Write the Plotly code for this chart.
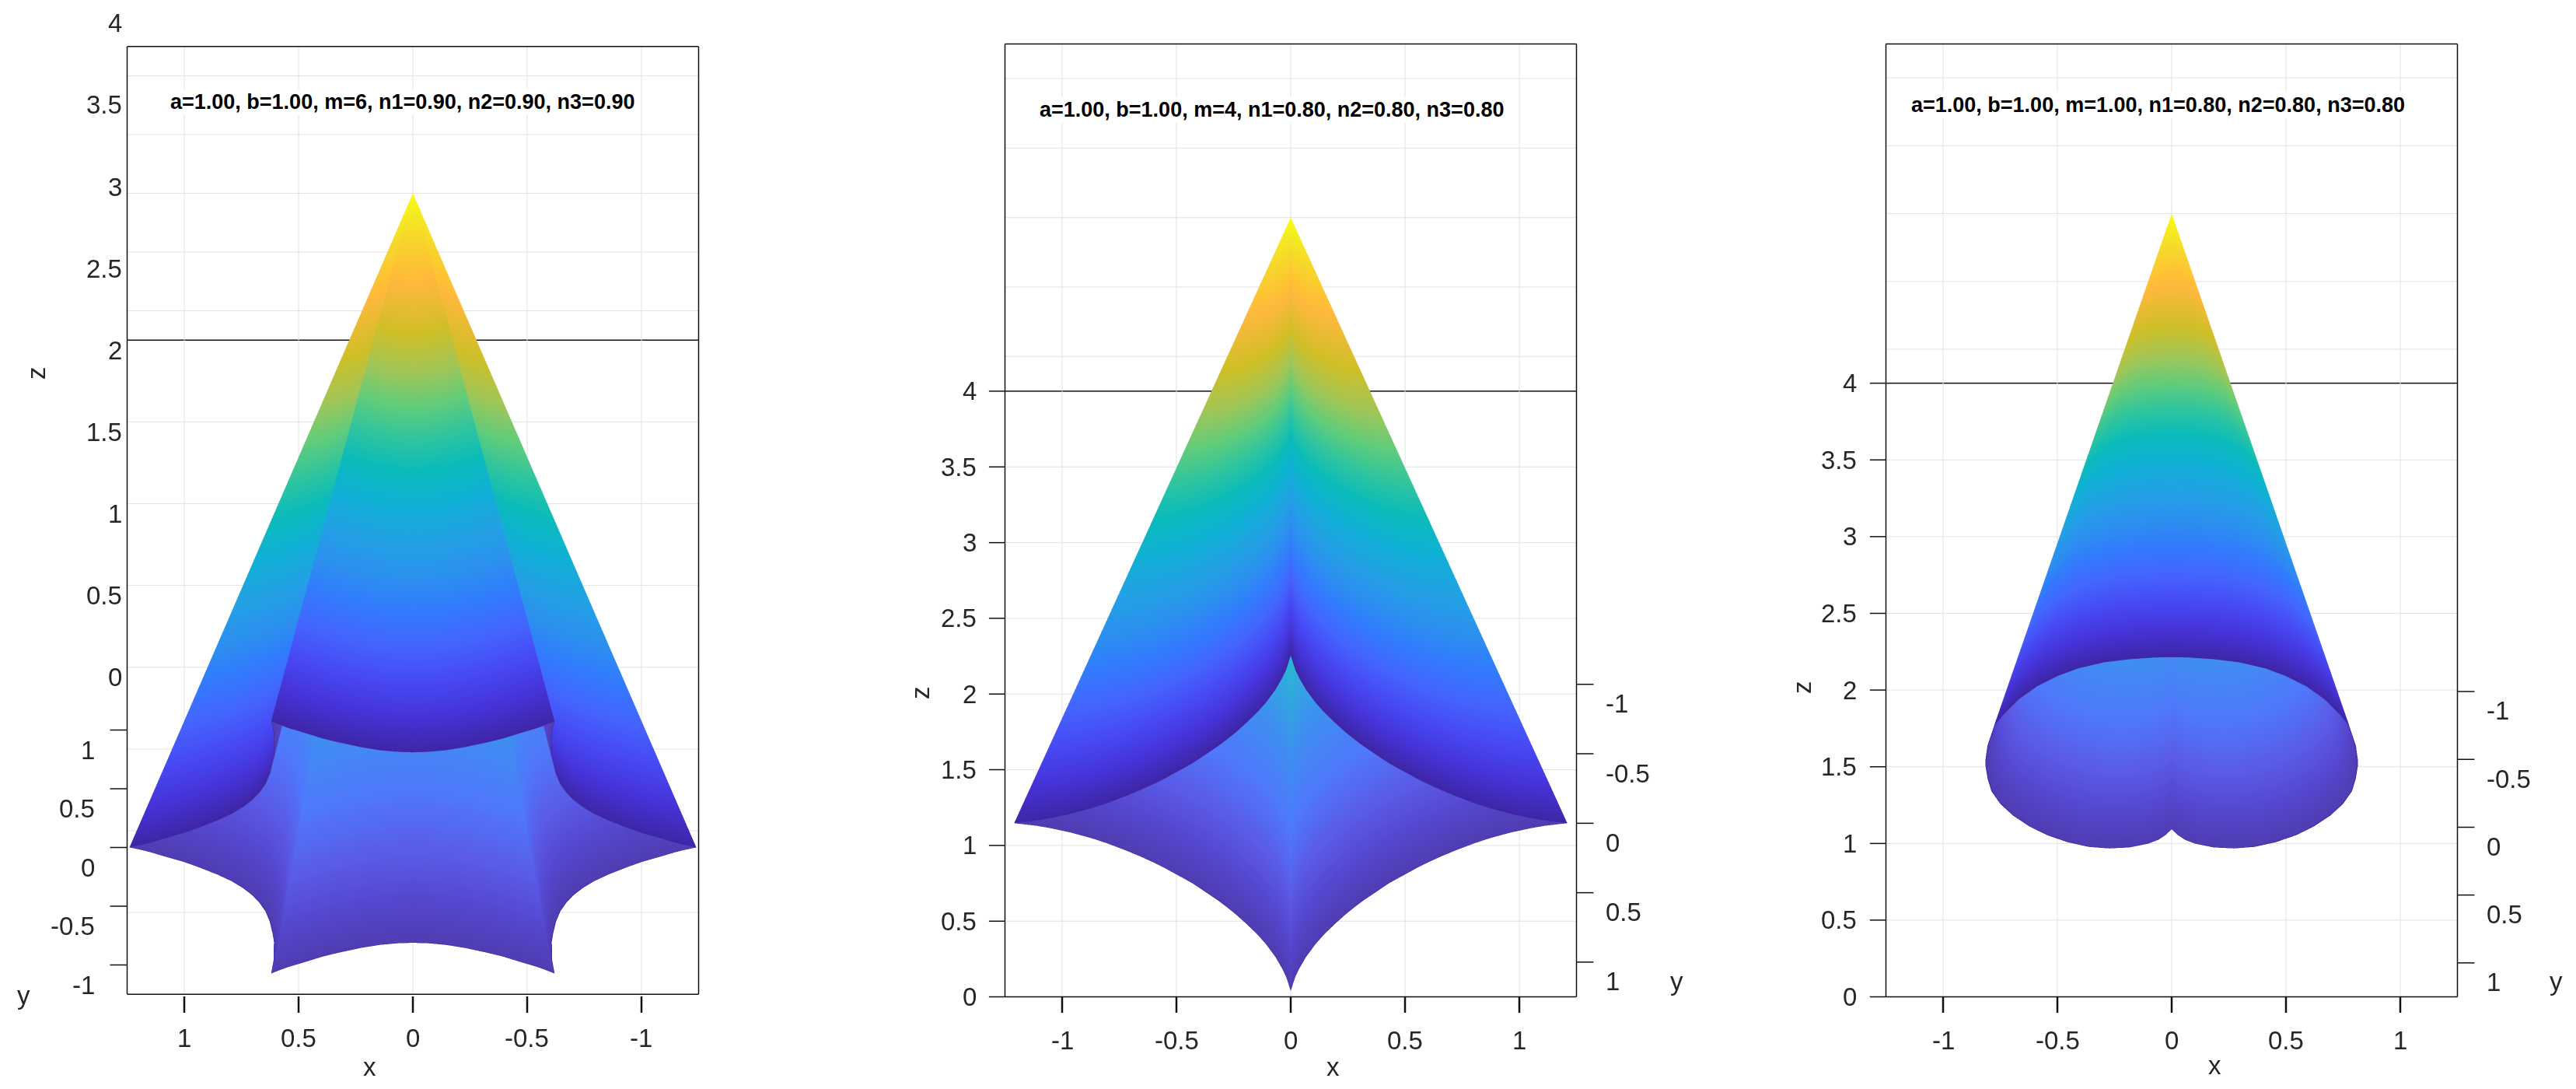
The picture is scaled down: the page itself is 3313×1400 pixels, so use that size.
import math
import plotly.graph_objects as go

W = 3313
H = 1400

# parula, sampled
parula = [
    [0.00, "#3e26a8"], [0.06, "#4533d6"], [0.12, "#4748f4"], [0.19, "#4465fd"],
    [0.25, "#327bfd"], [0.31, "#2c90ef"], [0.37, "#23a0e5"], [0.44, "#10b0d5"],
    [0.50, "#0abbbb"], [0.56, "#30c59e"], [0.62, "#63cc7a"], [0.68, "#a0c658"],
    [0.75, "#d0bf27"], [0.81, "#f0ba36"], [0.84, "#feb93c"], [0.87, "#fec334"],
    [0.92, "#f6d82b"], [0.96, "#f5e922"], [1.00, "#f9fb15"],
]
# the inside of the cone reads paler in the picture
parula_inside = [
    [0.00, "#4f3db2"], [0.06, "#5548d0"], [0.12, "#5a5ce8"], [0.20, "#4f78fc"],
    [0.30, "#3d90f0"], [0.40, "#2cb2d8"], [0.50, "#20c0c0"], [1.00, "#f9fb15"],
]

apex_z = 4
x_ticks = [-1, -0.5, 0, 0.5, 1]
y_ticks = [-1, -0.5, 0, 0.5, 1]
z_ticks = [0, 0.5, 1, 1.5, 2, 2.5, 3, 3.5, 4]
tick_text = {-1: "-1", -0.5: "-0.5", 0: "0", 0.5: "0.5", 1: "1", 1.5: "1.5", 2: "2", 2.5: "2.5", 3: "3", 3.5: "3.5", 4: "4"}

# rim of the m=6 shape, one 60 degree sector
m6_angle = [0, 1, 2, 4, 7, 10, 15, 20, 25, 30, 35, 40, 45, 50, 53, 56, 58, 59]
m6_radius = [1.24, 1.19, 1.15, 1.09, 1.01, 0.955, 0.887, 0.843, 0.82, 0.812, 0.82, 0.843, 0.887, 0.955, 1.01, 1.09, 1.15, 1.19]

# rim of the m=4 shape, one 90 degree sector
m4_angle = [0, 1, 2, 4, 7, 10, 15, 20, 25, 30, 35, 40, 45, 50, 55, 60, 65, 70, 75, 80, 83, 86, 88, 89]
m4_radius = [1.21, 1.11, 1.05, 0.965, 0.88, 0.82, 0.75, 0.70, 0.665, 0.64, 0.625, 0.615, 0.61, 0.615, 0.625, 0.64, 0.665, 0.70, 0.75, 0.82, 0.88, 0.965, 1.05, 1.11]

# rim of the m=1 shape, right half from the dimple round to the near side
m1_x = [0, 0.024, 0.058, 0.103, 0.183, 0.273, 0.364, 0.455, 0.545, 0.625, 0.693, 0.749, 0.789, 0.806, 0.815, 0.815, 0.806, 0.778, 0.738, 0.670, 0.591, 0.50, 0.409, 0.296, 0.183, 0.069, 0]
m1_y = [0.015, 0.055, 0.093, 0.122, 0.149, 0.157, 0.145, 0.111, 0.059, -0.008, -0.084, -0.17, -0.265, -0.361, -0.456, -0.494, -0.60, -0.743, -0.829, -0.943, -1.038, -1.115, -1.172, -1.216, -1.239, -1.252, -1.254]


def polar_rim(angle, radius, sectors, step):
    xs = []
    ys = []
    for s in range(sectors):
        for a, r in zip(angle, radius):
            t = math.radians(a + s * step)
            xs.append(r * math.cos(t))
            ys.append(r * math.sin(t))
    xs.append(xs[0])
    ys.append(ys[0])
    return xs, ys


rim6 = polar_rim(m6_angle, m6_radius, 6, 60)
rim4 = polar_rim(m4_angle, m4_radius, 4, 90)
rim1 = (m1_x + [-v for v in m1_x[-2::-1]], m1_y + m1_y[-2::-1])

fig = go.Figure()

dark = "#262626"
edge = "#101010"
grid = "#e2e2e2"
lim = 1.25


def eye_dir(elevation, side):
    t = math.radians(elevation)
    return 0, side * math.cos(t), -math.sin(t)


def cone(rim, scene, inner_shift=0):
    n = len(rim[0])
    flat = dict(ambient=1, diffuse=0, specular=0, fresnel=0, roughness=1)
    fig.add_trace(go.Surface(
        x=[rim[0], [0] * n], y=[rim[1], [0] * n], z=[[0] * n, [apex_z] * n],
        colorscale=parula, cmin=0, cmax=apex_z, showscale=False, hoverinfo="skip",
        lighting=flat, scene=scene))
    # a skin just inside the first one, only seen through the open base
    fig.add_trace(go.Surface(
        x=[[v * 0.996 for v in rim[0]], [0] * n],
        y=[[v * 0.996 + inner_shift for v in rim[1]], [inner_shift] * n],
        z=[[0] * n, [apex_z - 0.06] * n],
        colorscale=parula_inside, cmin=0, cmax=apex_z, showscale=False, hoverinfo="skip",
        lighting=flat, scene=scene))


def lines(segments, scene, color, width):
    xs, ys, zs = [], [], []
    for a, b in segments:
        xs += [a[0], b[0], None]
        ys += [a[1], b[1], None]
        zs += [a[2], b[2], None]
    fig.add_trace(go.Scatter3d(x=xs, y=ys, z=zs, mode="lines", line=dict(color=color, width=width),
                               hoverinfo="skip", showlegend=False, scene=scene))


def frame(far_y, near_y, scene, y_tick_x, z_ticks_on):
    # grid on the back wall and on the ceiling, as MATLAB draws it from below
    g = []
    for v in x_ticks:
        g.append(((v, far_y, 0), (v, far_y, 4)))
        g.append(((v, far_y, 4), (v, near_y, 4)))
    for v in z_ticks:
        g.append(((-lim, far_y, v), (lim, far_y, v)))
    for v in y_ticks:
        g.append(((-lim, v, 4), (lim, v, 4)))
    lines(g, scene, grid, 2)

    # box silhouette, plus the seam between back wall and ceiling
    b = [((-lim, far_y, 0), (lim, far_y, 0)), ((lim, far_y, 0), (lim, near_y, 4)),
         ((lim, near_y, 4), (-lim, near_y, 4)), ((-lim, near_y, 4), (-lim, far_y, 0)),
         ((-lim, far_y, 4), (lim, far_y, 4))]
    lines(b, scene, edge, 3)

    t = []
    for v in y_ticks:
        t.append(((y_tick_x, v, 0), (y_tick_x + 0.075, v, 0)))
    if z_ticks_on:
        for v in z_ticks:
            t.append(((-lim, far_y, v), (-lim - 0.07, far_y, v)))
    lines(t, scene, edge, 3)


cone(rim6, "scene")
frame(-lim, lim, "scene", lim, False)
cone(rim4, "scene2")
frame(lim, -lim, "scene2", lim, True)
cone(rim1, "scene3", -0.003)
frame(lim, -lim, "scene3", lim, True)


def axis(lo, hi):
    return dict(range=[lo, hi], visible=False)


def label(v, x, y, z, xshift, yshift, xanchor):
    return dict(x=x, y=y, z=z, text=tick_text[v], showarrow=False, xanchor=xanchor, yanchor="middle",
                xshift=xshift, yshift=yshift, font=dict(family="Liberation Sans", size=33, color=dark))


def scene_layout(left, right, elevation, side, annos, dist=3):
    ex, ey, ez = eye_dir(elevation, side)
    return dict(
        domain=dict(x=[left / W, right / W], y=[1 - 1338 / H, 1]),
        xaxis=axis(-1.35, 1.35), yaxis=axis(-1.4, 1.4), zaxis=axis(0, 4),
        aspectmode="manual", aspectratio=dict(x=1.1865, y=1.2305, z=1.465),
        camera=dict(projection=dict(type="orthographic"), up=dict(x=0, y=0, z=1),
                    center=dict(x=0, y=0, z=0), eye=dict(x=ex * dist, y=ey * dist, z=ez * dist)),
        annotations=annos, bgcolor="white")


annos1 = [label(v, lim, lim, v, -5, 30, "right") for v in z_ticks]
annos1 += [label(v, lim, v, 0, -40, -26, "right") for v in y_ticks]
annos1 += [label(v, v, -lim, 0, 0, -56, "center") for v in x_ticks]

annos2 = [label(v, -lim, lim, v, -35, 0, "right") for v in z_ticks]
annos2 += [label(v, lim, v, 0, 36, -25, "left") for v in y_ticks]
annos2 += [label(v, v, lim, 0, 0, -56, "center") for v in x_ticks]

annos3 = [label(v, -lim, lim, v, -36, 0, "right") for v in z_ticks]
annos3 += [label(v, lim, v, 0, 36, -25, "left") for v in y_ticks]
annos3 += [label(v, v, lim, 0, 0, -56, "center") for v in x_ticks]


def paper_text(text, px, py, size=33, bold=False, angle=0, bg=None):
    return dict(xref="paper", yref="paper", x=px / W, y=1 - py / H, text=("<b>%s</b>" % text) if bold else text,
                showarrow=False, textangle=angle, xanchor="center", yanchor="middle", bgcolor=bg,
                font=dict(family="Liberation Sans", size=size, color="black" if bold else dark))


def x_tick_marks(center, direction):
    # scatter3d would not show these, so they are plain shapes under the box
    marks = []
    for v in x_ticks:
        px = (center + direction * v * 294) / W
        marks.append(dict(type="line", xref="paper", yref="paper", x0=px, x1=px, y0=1 - 1281 / H, y1=1 - 1302 / H,
                          line=dict(color=edge, width=2.5)))
    return marks


fig.update_layout(
    width=W, height=H, margin=dict(l=0, r=0, t=0, b=0), paper_bgcolor="white", showlegend=False,
    scene=scene_layout(0, 1062, 30.9, 1, annos1),
    scene2=scene_layout(1160, 2160, 37.4, -1, annos2),
    scene3=scene_layout(2293, 3293, 36.4, -1, annos3),
    shapes=x_tick_marks(531, -1) + x_tick_marks(1660, 1) + x_tick_marks(2793, 1),
    annotations=[
        paper_text("a=1.00, b=1.00, m=6, n1=0.90, n2=0.90, n3=0.90", 517, 131, 27, True, bg="white"),
        paper_text("a=1.00, b=1.00, m=4, n1=0.80, n2=0.80, n3=0.80", 1635, 141, 27, True, bg="white"),
        paper_text("a=1.00, b=1.00, m=1.00, n1=0.80, n2=0.80, n3=0.80", 2775, 135, 27, True, bg="white"),
        paper_text("x", 475, 1371), paper_text("z", 46, 480, angle=-90), paper_text("y", 30, 1279),
        paper_text("x", 1714, 1371), paper_text("z", 1183, 891, angle=-90), paper_text("y", 2156, 1261),
        paper_text("x", 2848, 1369), paper_text("z", 2317, 884, angle=-90), paper_text("y", 3287, 1261),
    ])

fig.write_html("out.html", config=dict(displayModeBar=False), post_script="document.body.style.margin='0';")
